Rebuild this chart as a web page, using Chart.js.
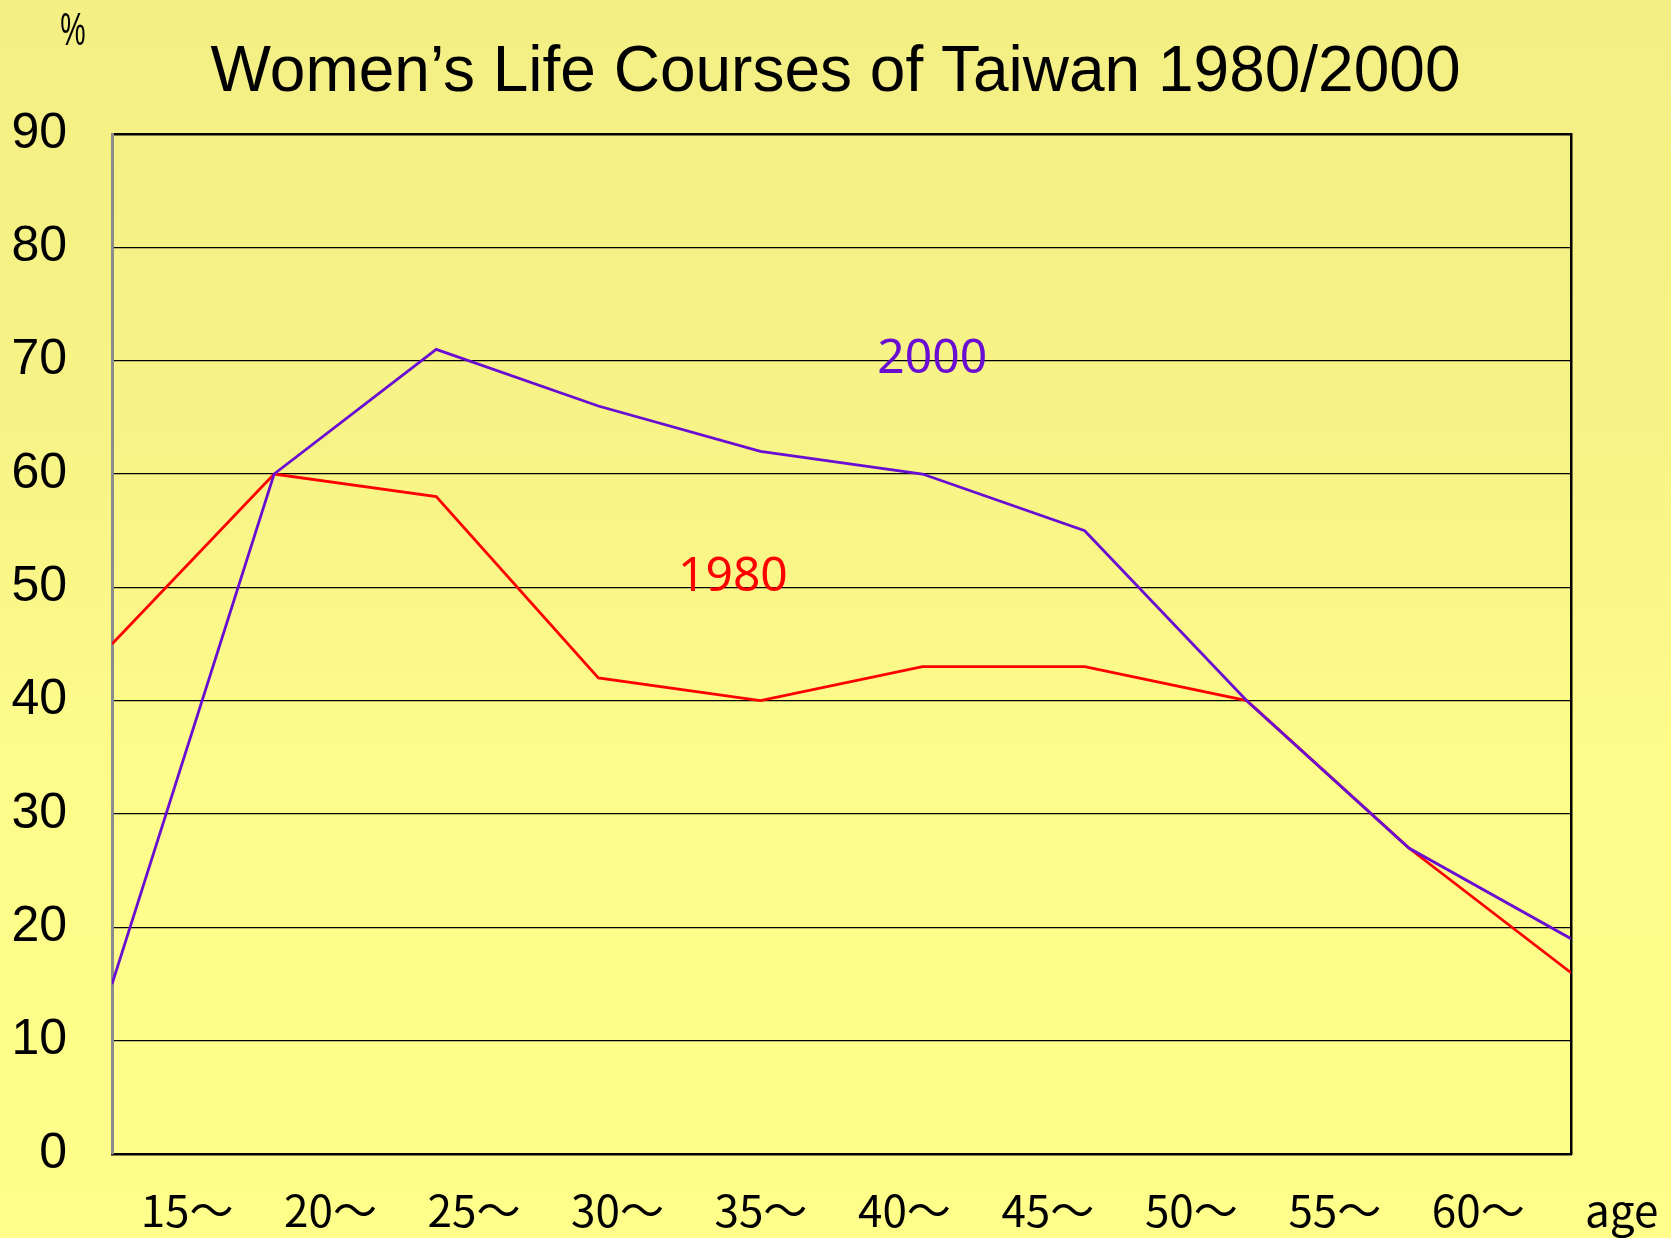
<!DOCTYPE html>
<html>
<head>
<meta charset="utf-8">
<script src="https://cdn.jsdelivr.net/npm/chart.js@4.4.0/dist/chart.umd.min.js"></script>
<style>
    html, body { margin: 0; padding: 0; background: #FFFE8A; }
    #wrap { width: 1671px; height: 1238px; }
</style>
</head>
<body>
<div id="wrap"><canvas id="lifeChart"></canvas></div>
<script>
// Labour force participation of women by age group (%)
const ageLabels = ['15〜', '20〜', '25〜', '30〜', '35〜', '40〜', '45〜', '50〜', '55〜', '60〜', 'age'];
const rate1980 = [45, 60, 58, 42, 40, 43, 43, 40, 27, 16];
const rate2000 = [15, 60, 71, 66, 62, 60, 55, 40, 27, 19];
const yTicks = [0, 10, 20, 30, 40, 50, 60, 70, 80, 90];

// Series name labels, placed in data coordinates
const seriesNotes = [
    { text: '2000', x: 5.06, y: 70.1, color: '#6A0DD2' },
    { text: '1980', x: 3.83, y: 50.9, color: '#FF0000' }
];

// Category labels sit between the points, not on them
const LABEL_START = 0.463;
const LABEL_STEP = 0.885;

const PURPLE = '#6A0DD2';
const RED = '#FF0000';

const toPoints = values => values.map((v, i) => ({ x: i, y: v }));

// Paint the yellow paper background
const backgroundPlugin = {
    id: 'paper',
    beforeDraw(chart) {
        const { ctx, width, height } = chart;
        const grad = ctx.createLinearGradient(0, 0, 0, height);
        grad.addColorStop(0, '#F4EF84');
        grad.addColorStop(0.35, '#F7F386');
        grad.addColorStop(0.6, '#FDFB8A');
        grad.addColorStop(1, '#FFFE8A');
        ctx.save();
        ctx.fillStyle = grad;
        ctx.fillRect(0, 0, width, height);
        ctx.restore();
    }
};

// "%" unit and series names
const notesPlugin = {
    id: 'notes',
    afterDatasetsDraw(chart) {
        const { ctx, chartArea } = chart;
        const xs = chart.scales.x;
        const ys = chart.scales.y;
        ctx.save();
        ctx.textAlign = 'center';
        ctx.textBaseline = 'middle';
        ctx.fillStyle = '#000';
        // narrow, tall percent sign
        ctx.save();
        ctx.translate(chartArea.left - 39, 32);
        ctx.scale(0.62, 1);
        ctx.font = '46px "Liberation Sans", sans-serif';
        ctx.fillText('%', 0, 0);
        ctx.restore();
        ctx.font = '48px "Noto Sans", sans-serif';
        seriesNotes.forEach(n => {
            ctx.fillStyle = n.color;
            ctx.fillText(n.text, xs.getPixelForValue(n.x), ys.getPixelForValue(n.y));
        });
        ctx.restore();
    }
};

function createLifeChart() {
    const canvas = document.getElementById('lifeChart');
    canvas.width = 1671;
    canvas.height = 1238;

    const config = {
        type: 'line',
        data: {
            datasets: [{
                label: '2000',
                data: toPoints(rate2000),
                borderColor: PURPLE,
                borderWidth: 2.8,
                pointRadius: 0,
                tension: 0
            }, {
                label: '1980',
                data: toPoints(rate1980),
                borderColor: RED,
                borderWidth: 2.8,
                pointRadius: 0,
                tension: 0
            }]
        },
        options: {
            responsive: false,
            animation: false,
            layout: { padding: 0 },
            plugins: {
                legend: { display: false },
                tooltip: { enabled: false },
                title: {
                    display: true,
                    text: 'Women’s Life Courses of Taiwan 1980/2000',
                    color: '#000',
                    font: { family: '"Liberation Sans", Arial, sans-serif', size: 64, weight: 'normal', lineHeight: 1.2 },
                    padding: { top: 35, bottom: 0 }
                }
            },
            scales: {
                x: {
                    type: 'linear',
                    position: 'bottom',
                    min: 0,
                    max: 9,
                    afterBuildTicks: scale => {
                        scale.ticks = ageLabels.map((l, i) => ({ value: LABEL_START + i * LABEL_STEP }));
                    },
                    afterFit: scale => {
                        scale.height = 84;
                        // labels may run past the plot edge, keep the plot full width
                        scale.paddingLeft = 0;
                        scale.paddingRight = 0;
                    },
                    ticks: {
                        autoSkip: false,
                        maxRotation: 0,
                        padding: 30,
                        color: '#000',
                        font: { family: '"Noto Sans CJK JP", sans-serif', size: 44 },
                        callback: (value, index) => ageLabels[index]
                    },
                    grid: { display: false, drawTicks: false },
                    border: { display: true, color: '#000', width: 2.5 }
                },
                xTop: {
                    type: 'linear',
                    position: 'top',
                    min: 0,
                    max: 9,
                    afterFit: scale => { scale.height = 134 - 111.8; },
                    ticks: { display: false },
                    grid: { display: false, drawTicks: false },
                    border: { display: true, color: '#000', width: 2.5 }
                },
                y: {
                    min: 0,
                    max: 90,
                    afterBuildTicks: scale => {
                        scale.ticks = yTicks.map(v => ({ value: v }));
                    },
                    afterFit: scale => { scale.width = 112; },
                    ticks: {
                        padding: 45,
                        color: '#000',
                        font: { family: '"Liberation Sans", Arial, sans-serif', size: 50 }
                    },
                    grid: { color: '#000', lineWidth: 1.3, drawTicks: false },
                    border: { display: true, color: '#8C8C8C', width: 3 }
                },
                yRight: {
                    position: 'right',
                    min: 0,
                    max: 90,
                    afterFit: scale => { scale.width = 100; },
                    ticks: { display: false },
                    grid: { display: false, drawTicks: false },
                    border: { display: true, color: '#000', width: 2.5 }
                }
            }
        },
        plugins: [backgroundPlugin, notesPlugin]
    };

    return new Chart(canvas, config);
}

createLifeChart();
</script>
</body>
</html>
